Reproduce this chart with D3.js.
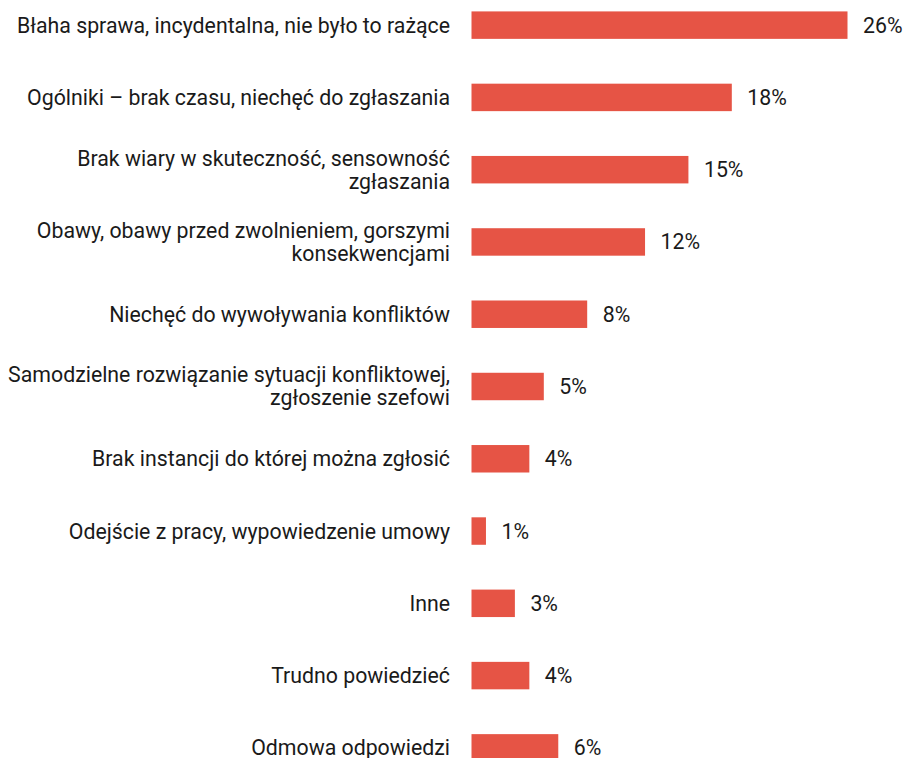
<!DOCTYPE html>
<html>
<head>
<meta charset="utf-8">
<script src="https://cdn.jsdelivr.net/npm/d3@7"></script>
<style>
  body { margin: 0; background: #fff; }
  svg { display: block; font-family: Roboto, "Noto Sans", sans-serif; }
</style>
</head>
<body>
<svg></svg>
<script>
var width = 905;
var height = 758;

// categories (lines of each label) and values in %
var categories = [
  ['Błaha sprawa, incydentalna, nie było to rażące'],
  ['Ogólniki – brak czasu, niechęć do zgłaszania'],
  ['Brak wiary w skuteczność, sensowność', 'zgłaszania'],
  ['Obawy, obawy przed zwolnieniem, gorszymi', 'konsekwencjami'],
  ['Niechęć do wywoływania konfliktów'],
  ['Samodzielne rozwiązanie sytuacji konfliktowej,', 'zgłoszenie szefowi'],
  ['Brak instancji do której można zgłosić'],
  ['Odejście z pracy, wypowiedzenie umowy'],
  ['Inne'],
  ['Trudno powiedzieć'],
  ['Odmowa odpowiedzi']
];
var values = [26, 18, 15, 12, 8, 5, 4, 1, 3, 4, 6];

var fontSize = '21.3px';

var x0 = 471.5;
var xScale = d3.scaleLinear()
  .domain([0, 26])
  .range([x0, 847.5]);

var yScale = d3.scaleBand()
  .domain(d3.range(values.length))
  .range([-11, 784])
  .paddingInner(0.62)
  .paddingOuter(0.31);

var svg = d3.select('svg')
  .attr('width', width)
  .attr('height', height);

// bars
svg.selectAll('rect.bar')
  .data(values)
  .enter()
  .append('rect')
    .attr('class', 'bar')
    .attr('x', x0)
    .attr('y', (d, i) => yScale(i))
    .attr('width', d => xScale(d) - x0)
    .attr('height', yScale.bandwidth())
    .attr('fill', '#e65445');

// value labels
svg.selectAll('text.val')
  .data(values)
  .enter()
  .append('text')
    .attr('class', 'val')
    .attr('x', d => xScale(d) + 15.5)
    .attr('y', (d, i) => yScale(i) + yScale.bandwidth() / 2)
    .attr('dy', '0.35em')
    .style('font-size', fontSize)
    .style('fill', '#1a1a1a')
    .text(d => d + '%');

// category labels
var lab = svg.selectAll('text.cat')
  .data(categories)
  .enter()
  .append('text')
    .attr('class', 'cat')
    .attr('x', 450)
    .attr('y', (d, i) => yScale(i) + yScale.bandwidth() / 2 - (d.length - 1) * 11.5)
    .style('text-anchor', 'end')
    .style('font-size', fontSize)
    .style('fill', '#1a1a1a');

lab.selectAll('tspan')
  .data(d => d)
  .enter()
  .append('tspan')
    .attr('x', 450)
    .attr('dy', (d, i) => i === 0 ? '0.35em' : '23px')
    .text(d => d);
</script>
</body>
</html>
